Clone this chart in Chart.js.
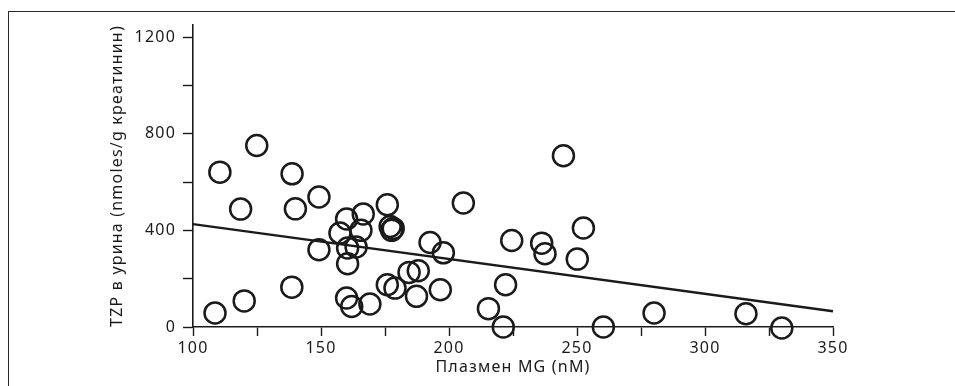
<!DOCTYPE html>
<html lang="bg">
<head>
<meta charset="utf-8">
<script src="https://cdn.jsdelivr.net/npm/chart.js@4"></script>
<style>
  html, body { margin: 0; padding: 0; background: #fff; overflow: hidden; }
  #wrap { position: relative; width: 955px; height: 386px; }
  #frame {
    position: absolute; left: 8px; top: 11px; width: 960px; height: 390px;
    border-left: 1.5px solid #2a2a2a; border-top: 1.5px solid #2a2a2a;
    pointer-events: none;
  }
</style>
</head>
<body>
<div id="wrap">
  <canvas id="scatter" width="955" height="386" lang="bg"></canvas>
  <div id="frame"></div>
</div>
<script>
// plasma MG (nM) vs urinary TZP (nmoles/g creatinine)
const mgValues = [
  108.6, 110.5, 124.9, 118.6, 138.7, 140.0, 149.2, 120.0, 138.6, 149.2,
  160.0, 166.5, 175.9, 157.4, 165.6, 177.0, 177.6, 178.2, 160.4, 163.7,
  160.4, 192.6, 197.8, 184.4, 188.0, 175.9, 178.9, 187.3, 196.6, 160.0,
  162.0, 169.1, 205.6, 224.5, 236.2, 237.5, 252.5, 250.1, 222.1, 215.4,
  221.2, 260.3, 280.1, 316.0, 330.0, 244.7
];
const tzpValues = [
  58, 641, 751, 488, 634, 489, 538, 108, 165, 320,
  447, 468, 506, 389, 400, 416, 400, 408, 327, 331,
  262, 350, 307, 226, 233, 175, 161, 127, 154, 120,
  85, 95, 513, 358, 347, 303, 410, 281, 175, 76,
  0, 0, 58, 55, -4, 709
];
// regression line end points
const fitX = [100, 350];
const fitY = [426, 65];

const xTickLabels = [100, 150, 200, 250, 300, 350];
const yTickLabels = [0, 400, 800, 1200];

const points = mgValues.map((x, i) => ({ x: x, y: tzpValues[i] }));
const fitLine = fitX.map((x, i) => ({ x: x, y: fitY[i] }));

const ink = '#1a1a1a';
const fontFamily = "'Noto Sans', 'DejaVu Sans', sans-serif";

// looser tracking like the printed figure
const spacingPlugin = {
  id: 'spacing',
  beforeDraw(chart) { chart.ctx.letterSpacing = '1.2px'; }
};

new Chart(document.getElementById('scatter'), {
  type: 'scatter',
  data: {
    datasets: [{
      data: points,
      pointStyle: 'circle',
      pointRadius: 10.5,
      pointHoverRadius: 10.5,
      borderWidth: 2.5,
      borderColor: ink,
      backgroundColor: 'rgba(0,0,0,0)',
      clip: false
    }, {
      type: 'line',
      data: fitLine,
      borderColor: ink,
      borderWidth: 2.4,
      pointRadius: 0,
      fill: false,
      clip: false
    }]
  },
  options: {
    responsive: false,
    animation: false,
    events: [],
    layout: { padding: { left: 100, right: 122, top: 25, bottom: 0 } },
    plugins: { legend: { display: false }, tooltip: { enabled: false } },
    scales: {
      x: {
        type: 'linear',
        min: 100,
        max: 350,
        afterFit(scale) { scale.height = 59; },
        border: { display: true, color: ink, width: 1.6 },
        grid: { drawOnChartArea: false, drawTicks: true, tickLength: 9, tickColor: ink, tickWidth: 1.4 },
        ticks: {
          stepSize: 25,
          padding: 3,
          color: ink,
          font: { family: fontFamily, size: 16 },
          maxRotation: 0,
          callback: v => xTickLabels.includes(v) ? String(v) : ''
        },
        title: {
          display: true,
          text: 'Плазмен MG (nM)',
          color: ink,
          font: { family: fontFamily, size: 16 },
          padding: { top: 0, bottom: 9 }
        }
      },
      y: {
        type: 'linear',
        min: 0,
        max: 1250,
        afterFit(scale) { scale.width = 93; },
        border: { display: true, color: ink, width: 1.6 },
        grid: { drawOnChartArea: false, drawTicks: true, tickLength: 10, tickColor: ink, tickWidth: 1.4 },
        ticks: {
          stepSize: 200,
          includeBounds: false,
          padding: 7,
          color: ink,
          font: { family: fontFamily, size: 16 },
          callback: v => yTickLabels.includes(v) ? String(v) : ''
        },
        title: {
          display: true,
          text: 'TZP в урина (nmoles/g креатинин)',
          color: ink,
          font: { family: fontFamily, size: 16 },
          padding: { top: 8, bottom: 0 }
        }
      }
    }
  },
  plugins: [spacingPlugin]
});
</script>
</body>
</html>
